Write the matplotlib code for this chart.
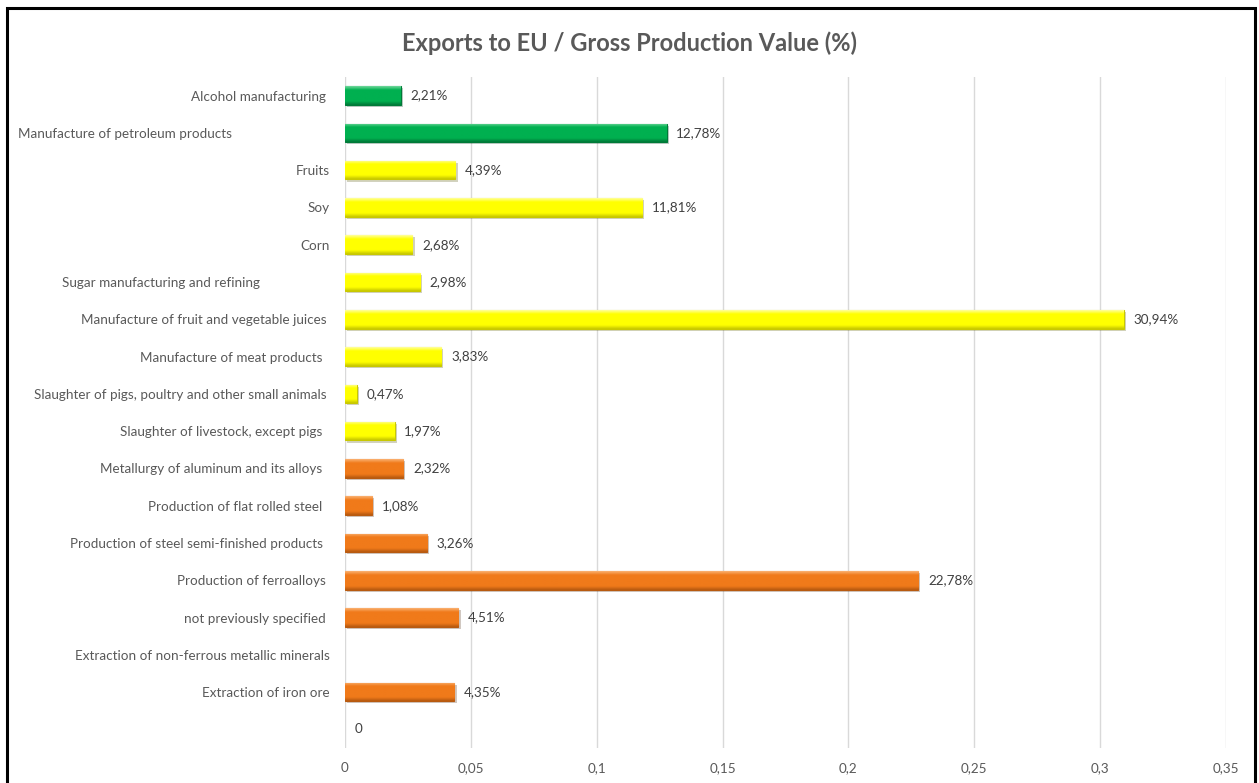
import matplotlib
matplotlib.use("Agg")
import matplotlib.pyplot as plt
import matplotlib.patheffects as pe
from matplotlib.patches import Rectangle
from matplotlib.colors import to_rgb
import numpy as np

# sectors, top to bottom (trailing spaces keep the original label offsets)
sectors = [
    "Alcohol manufacturing ",
    "Manufacture of petroleum products" + " " * 28,
    "Fruits",
    "Soy",
    "Corn",
    "Sugar manufacturing and refining" + " " * 20,
    "Manufacture of fruit and vegetable juices ",
    "Manufacture of meat products  ",
    "Slaughter of pigs, poultry and other small animals ",
    "Slaughter of livestock, except pigs  ",
    "Metallurgy of aluminum and its alloys  ",
    "Production of flat rolled steel  ",
    "Production of steel semi-finished products  ",
    "Production of ferroalloys ",
    "not previously specified ",
    "Extraction of non-ferrous metallic minerals",
    "Extraction of iron ore",
    "",
]
# share of gross production value exported to the EU (None = no data)
share = [0.0221, 0.1278, 0.0439, 0.1181, 0.0268, 0.0298, 0.3094, 0.0383,
         0.0047, 0.0197, 0.0232, 0.0108, 0.0326, 0.2278, 0.0451, None,
         0.0435, 0.0]
group = ["green"] * 2 + ["yellow"] * 8 + ["orange"] * 7 + ["orange"]

xticks = [0, 0.05, 0.1, 0.15, 0.2, 0.25, 0.3, 0.35]

palette = {
    "green": ("#6ED79A", "#00B050", "#007A38"),
    "yellow": ("#FFFF9A", "#FFFF00", "#C8C800"),
    "orange": ("#FAB070", "#F07A1A", "#B85A10"),
}

plt.rcParams["font.family"] = ["Lato", "DejaVu Sans"]
txt_col = "#595959"
fs = 9.7

fig = plt.figure(figsize=(12.59, 7.83), dpi=100)
ax = fig.add_axes([0.274, 0.0447, 0.6998, 0.857])

y = np.arange(len(sectors))
vals = [0 if v is None else v for v in share]
bars = ax.barh(y, vals, height=0.5, zorder=3, linewidth=0.8)

for bar, v, g in zip(bars, share, group):
    light, base, dark = palette[g]
    if not v:
        bar.set_visible(False)
        continue
    bar.set_facecolor(base)
    bar.set_edgecolor(dark)
    bar.set_path_effects([pe.SimplePatchShadow(offset=(1.5, -1.5), alpha=0.25),
                          pe.Normal()])
    # bevel-like vertical gradient
    stops = np.array([0, 0.2, 0.45, 0.8, 1.0])
    cols = np.array([to_rgb(light), to_rgb(base), to_rgb(base),
                     to_rgb(base), to_rgb(dark)])
    t = np.linspace(0, 1, 40)
    grad = np.stack([np.interp(t, stops, cols[:, k]) for k in range(3)], axis=-1)
    x0, y0 = bar.get_x(), bar.get_y()
    w, h = bar.get_width(), bar.get_height()
    im = ax.imshow(grad[:, None, :], extent=(x0, x0 + w, y0 + h, y0),
                   aspect="auto", zorder=4, interpolation="bilinear")
    im.set_clip_path(bar)

# value labels
for yi, v in zip(y, share):
    if v is None:
        continue
    lab = "0" if v == 0 else ("%.2f%%" % (v * 100)).replace(".", ",")
    ax.annotate(lab, (v, yi), xytext=(7, 0), textcoords="offset points",
                va="center", ha="left", fontsize=fs, color="#404040", zorder=5)

ax.set_xlim(0, 0.35)
ax.set_ylim(len(sectors) - 0.5, -0.5)
ax.set_xticks(xticks)
ax.set_xticklabels([("%g" % t).replace(".", ",") for t in xticks])
ax.set_yticks(y)
ax.set_yticklabels(sectors)
ax.tick_params(axis="x", length=0, pad=10, labelsize=fs, labelcolor=txt_col)
ax.tick_params(axis="y", length=0, pad=11, labelsize=fs, labelcolor=txt_col)
ax.grid(axis="x", color="#D9D9D9", linewidth=1.0, zorder=0)
ax.set_axisbelow(True)
for s in ax.spines.values():
    s.set_visible(False)

fig.text(0.5, 1 - 43 / 783, "Exports to EU / Gross Production Value (%)",
         ha="center", va="center", fontsize=17, fontweight="bold", color=txt_col)

# chart frame
fig.add_artist(Rectangle((7 / 1259, -0.05), 1248 / 1259, 1.05 - 8 / 783,
                         transform=fig.transFigure, fill=False,
                         edgecolor="black", linewidth=2.2))

fig.savefig("out.png", dpi=100)
